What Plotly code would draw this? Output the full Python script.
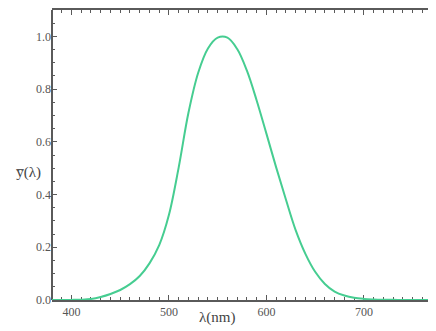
import plotly.graph_objects as go

wavelength_nm = [380, 390, 400, 410, 420, 430, 440, 450, 460, 470, 480, 490,
                 500, 510, 520, 530, 540, 550, 560, 570, 580, 590, 600, 610,
                 620, 630, 640, 650, 660, 670, 680, 690, 700, 710, 720, 730,
                 740, 750, 760, 770, 780]
y_bar = [0.00004, 0.00012, 0.0004, 0.0012, 0.004, 0.0116, 0.023, 0.038, 0.06,
         0.091, 0.139, 0.208, 0.323, 0.503, 0.71, 0.862, 0.954, 0.995, 0.995,
         0.952, 0.87, 0.757, 0.631, 0.503, 0.381, 0.265, 0.175, 0.107, 0.061,
         0.032, 0.017, 0.0082, 0.0041, 0.0021, 0.001, 0.0005, 0.00025, 0.00012,
         0.00006, 0.00003, 0.000015]
x_ticks = [400, 500, 600, 700]
y_ticks = [0.0, 0.2, 0.4, 0.6, 0.8, 1.0]

AX = "#5a5a5a"
FONT = "Liberation Serif"

fig = go.Figure()
fig.add_trace(go.Scatter(x=wavelength_nm, y=y_bar, mode="lines",
                         line=dict(color="rgb(70,205,145)", width=2, shape="spline"),
                         hoverinfo="skip"))

fig.update_layout(
    width=428, height=323,
    margin=dict(l=44, r=0, t=2, b=31),
    paper_bgcolor="white", plot_bgcolor="white",
    showlegend=False,
    font=dict(family=FONT, size=12, color="#555"),
)
fig.update_xaxes(
    range=[380, 774], showgrid=False, zeroline=False,
    showline=True, linecolor=AX, linewidth=2, mirror="ticks",
    tickmode="array", tickvals=x_ticks, ticktext=[str(v) for v in x_ticks],
    ticks="inside", ticklen=5, tickwidth=1, tickcolor=AX,
    minor=dict(dtick=10, ticks="inside", ticklen=3, tickcolor=AX, tickwidth=1, showgrid=False),
    tickfont=dict(family=FONT, size=12, color="#555"),
    layer="below traces", automargin=False,
)
fig.update_yaxes(
    range=[0, 1.1], showgrid=False, zeroline=False,
    showline=False, mirror="ticks",
    tickmode="array", tickvals=y_ticks, ticktext=["%.1f" % v for v in y_ticks],
    ticks="inside", ticklen=5, tickwidth=1, tickcolor=AX,
    minor=dict(dtick=0.05, ticks="inside", ticklen=3, tickcolor=AX, tickwidth=1, showgrid=False),
    tickfont=dict(family=FONT, size=12, color="#555"),
    layer="below traces", automargin=False,
)
fig.add_shape(type="line", xref="paper", yref="paper", x0=0, x1=0, y0=0, y1=1,
              line=dict(color=AX, width=2), layer="below")
fig.add_annotation(text="y\u0305(\u03bb)", xref="paper", yref="paper",
                   x=-0.023, y=0.438, xanchor="right", yanchor="middle",
                   showarrow=False, font=dict(family=FONT, size=15, color="#444"))
fig.add_annotation(text="\u03bb(nm)", xref="paper", yref="paper",
                   x=0.43, y=-0.062, xanchor="center", yanchor="middle",
                   showarrow=False, font=dict(family=FONT, size=15, color="#444"))

fig.write_html("out.html")
